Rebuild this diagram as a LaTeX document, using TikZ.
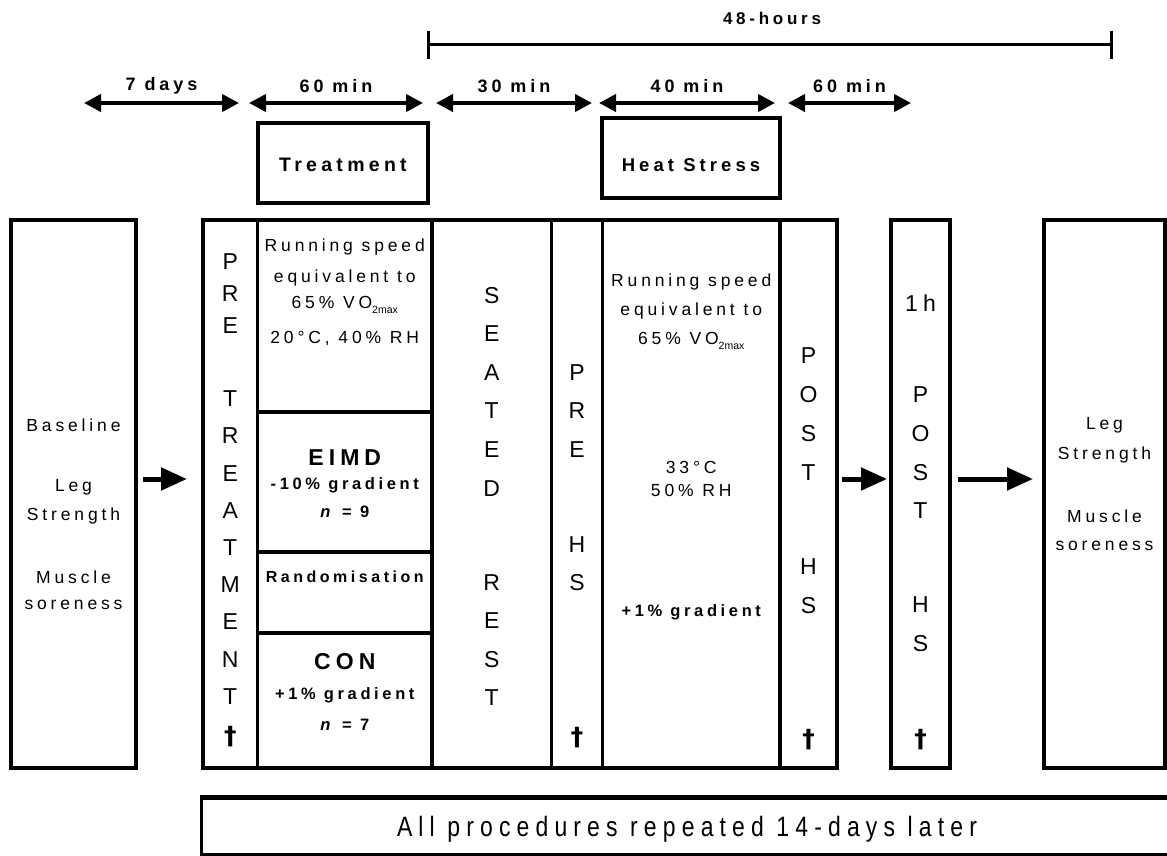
\documentclass[tikz,border=0pt]{standalone}
\usepackage{fontspec}
\setmainfont{Liberation Sans}
\newfontfamily\spc[LetterSpace=22]{Liberation Sans}
\newfontfamily\nar[FakeStretch=0.82,LetterSpace=22]{Liberation Sans}
\newfontfamily\dej{DejaVu Sans}
\usepackage{tikz}
\usetikzlibrary{arrows.meta, positioning}
\tikzstyle{colbox}=[rectangle, draw, line width=3.5pt, inner sep=0pt, outer sep=0pt, minimum height=548pt, anchor=north west]
\tikzstyle{topbox}=[rectangle, draw, line width=3.5pt, inner sep=0pt, minimum height=80pt]
\tikzstyle{vlet}=[inner sep=0pt, font=\fontsize{23}{23}\selectfont]
\tikzstyle{dag}=[inner sep=0pt, font=\dej\bfseries\fontsize{25}{25}\selectfont]
\tikzstyle{txt}=[inner sep=0pt, font=\spc\fontsize{17.5}{17.5}\selectfont]
\tikzstyle{txtbf}=[inner sep=0pt, font=\spc\bfseries\fontsize{16.5}{16.5}\selectfont]
\tikzstyle{durlab}=[inner sep=0pt, font=\spc\bfseries\fontsize{18}{18}\selectfont]
\tikzstyle{dur}=[line width=4pt, {Triangle[length=17pt,width=17pt]}-{Triangle[length=17pt,width=17pt]}]
\tikzstyle{flowarr}=[line width=5pt, -{Triangle[length=26pt,width=22pt]}]
\newcommand{\vosub}{\raisebox{-0.25em}{\normalfont\fontsize{10.5}{10.5}\selectfont 2max}}

\begin{document}
\begin{tikzpicture}[x=1pt, y=-1pt]
\useasboundingbox (0,0) rectangle (1167,856);

\coordinate (h48a) at (427,45);
\coordinate (h48b) at (1113,45);
\draw[line width=3pt, {Bar[width=28pt]}-{Bar[width=28pt]}] (h48a) -- (h48b);
\node[durlab, font=\spc\bfseries\fontsize{17}{17}\selectfont] (h48) at (772,18) {48-hours};

\foreach \a/\b/\lab [count=\i] in {84/239/7 days, 249/423/60 min, 436/592/30 min, 599/775/40 min, 788/911/60 min} {
  \coordinate (da\i) at (\a,103);
  \coordinate (db\i) at (\b,103);
  \draw[dur] (da\i) -- node[durlab, midway, yshift=17pt] (dl\i) {\lab} (db\i);
}

\node[topbox, minimum width=170pt] (treatbox) at (343,163) {};
\node[font=\spc\bfseries\fontsize{19.5}{19.5}\selectfont, inner sep=0pt] (treattxt) at (343,165) {Treatment};
\node[topbox, minimum width=178pt] (heatbox) at (691,158) {};
\node[font=\spc\bfseries\fontsize{18.5}{18.5}\selectfont, inner sep=0pt] (heattxt) at (691,165) {Heat Stress};

\node[colbox, minimum width=125pt] (base) at (11,220) {};
\node[colbox, minimum width=54.5pt] (pretr) at (203,220) {};
\node[colbox, minimum width=174.5pt, minimum height=192pt] (tc1) at (pretr.north east) {};
\node[colbox, minimum width=174.5pt, minimum height=140pt, below=0pt of tc1] (tc2) {};
\node[colbox, minimum width=174.5pt, minimum height=81pt, below=0pt of tc2] (tc3) {};
\node[colbox, minimum width=174.5pt, minimum height=135pt, below=0pt of tc3] (tc4) {};
\node[colbox, minimum width=119.5pt] (seated) at (tc1.north east) {};
\node[colbox, minimum width=51pt] (prehs) at (seated.north east) {};
\node[colbox, minimum width=177.5pt] (heat) at (prehs.north east) {};
\node[colbox, minimum width=57pt] (posths) at (heat.north east) {};
\node[colbox, minimum width=59pt] (onehr) at (891,220) {};
\node[colbox, minimum width=121pt] (final) at (1044,220) {};

\foreach \t/\yy [count=\i] in {Baseline/425, Leg/487, Strength/516, Muscle/577, soreness/605}
  \node[txt] (bl\i) at (73.5,\yy) {\t};
\foreach \t/\yy [count=\i] in {Leg/425, Strength/455, Muscle/516, soreness/546}
  \node[txt] (fl\i) at (1104.5,\yy) {\t};

\foreach \ch/\yy [count=\i] in {P/262, R/294, E/326, T/399, R/436, E/474, A/511, T/548, M/585, E/622, N/660, T/697}
  \node[vlet] (pt\i) at (230.25,\yy) {\ch};
\node[dag] (ptd) at (230.25,737) {†};

\node[txt] (r1) at (344.75,247) {Running speed};
\node[txt] (r2) at (344.75,278) {equivalent to};
\node[txt] (r3) at (344.75,305) {65\%  VO\vosub};
\node[txt] (r4) at (344.75,339) {20°C, 40\% RH};
\node[txtbf, font=\spc\bfseries\fontsize{23}{23}\selectfont] (eimd) at (344.75,458) {EIMD};
\node[txtbf] (eimdg) at (344.75,485) {-10\% gradient};
\node[txtbf] (eimdn) at (344.75,512) {\textit{n} = 9};
\node[txtbf, font=\spc\bfseries\fontsize{16}{16}\selectfont] (rand) at (344.75,577) {Randomisation};
\node[txtbf, font=\spc\bfseries\fontsize{23}{23}\selectfont] (con) at (344.75,662) {CON};
\node[txtbf] (cong) at (344.75,695) {+1\% gradient};
\node[txtbf] (conn) at (344.75,725) {\textit{n} = 7};

\foreach \ch/\yy [count=\i] in {S/296, E/334, A/373, T/411, E/450, D/489, R/583, E/621, S/660, T/698}
  \node[vlet] (sr\i) at (491.75,\yy) {\ch};

\foreach \ch/\yy [count=\i] in {P/373, R/411, E/450, H/545, S/583}
  \node[vlet] (ph\i) at (577,\yy) {\ch};
\node[dag] (phd) at (577,738) {†};

\node[txt] (h1) at (691.25,282) {Running speed};
\node[txt] (h2) at (691.25,311) {equivalent to};
\node[txt] (h3) at (691.25,341) {65\%  VO\vosub};
\node[txt] (h4) at (691.25,467) {33°C};
\node[txt] (h5) at (691.25,490) {50\%  RH};
\node[txtbf] (h6) at (691.25,612) {+1\% gradient};

\foreach \ch/\yy [count=\i] in {P/356, O/395, S/434, T/473, H/567, S/606}
  \node[vlet] (po\i) at (808.5,\yy) {\ch};
\node[dag] (pod) at (808.5,740) {†};

\node[vlet, font=\spc\fontsize{23}{23}\selectfont] (oh0) at (920.5,303) {1h};
\foreach \ch/\yy [count=\i] in {P/395, O/434, S/473, T/511, H/605, S/644}
  \node[vlet] (oh\i) at (920.5,\yy) {\ch};
\node[dag] (ohd) at (920.5,740) {†};

\draw[flowarr, shorten <=7pt, shorten >=16pt] ([yshift=15pt]base.east) -- ([yshift=15pt]pretr.west);
\draw[flowarr, shorten <=5pt, shorten >=4pt] ([yshift=15pt]posths.east) -- ([yshift=15pt]onehr.west);
\draw[flowarr, shorten <=8pt, shorten >=11pt] ([yshift=15pt]onehr.east) -- ([yshift=15pt]final.west);

\node[rectangle, draw, line width=2.5pt, inner sep=0pt, minimum width=1000pt, minimum height=56pt, anchor=north west] (rep) at (200,797) {};
\draw[line width=5pt] (rep.north west) -- (rep.north east);
\node[inner sep=0pt, font=\nar\fontsize{28}{28}\selectfont] (reptxt) at (687,829) {All procedures repeated 14-days later};
\end{tikzpicture}
\end{document}
